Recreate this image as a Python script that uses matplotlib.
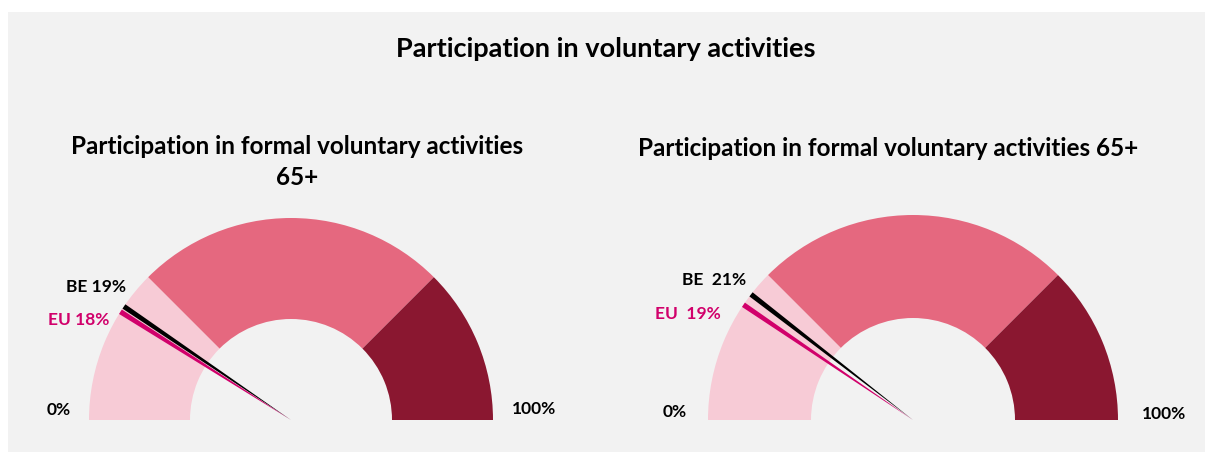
import numpy as np
import matplotlib
matplotlib.use("Agg")
import matplotlib.pyplot as plt
from matplotlib.patches import Wedge, Rectangle, Polygon

# ---- data ----
titles = ["Participation in formal voluntary activities\n65+",
          "Participation in formal voluntary activities 65+"]
band_edges = [0, 25, 75, 100]          # gauge band boundaries (%)
band_colors = ["#F7CBD6", "#E5687F", "#8A1730"]
be_values = [19, 21]
eu_values = [18, 19]
be_labels = ["BE 19%", "BE  21%"]
eu_labels = ["EU 18%", "EU  19%"]
min_label = "0%"
max_label = "100%"
main_title = "Participation in voluntary activities"

FONT = ["Lato", "DejaVu Sans"]
W, H = 1212, 459
fig = plt.figure(figsize=(W / 100, H / 100), dpi=100)
fig.patch.set_facecolor("white")
ax = fig.add_axes([0, 0, 1, 1])
ax.set_xlim(0, W)
ax.set_ylim(0, H)
ax.set_aspect("equal")
ax.axis("off")

ax.add_patch(Rectangle((8, H - 452), 1197, 440, facecolor="#F2F2F2", edgecolor="none"))

ax.text(606, H - 49, main_title, ha="center", va="center", fontsize=19.5,
        fontweight="bold", family=FONT)

gauges = [
    dict(cx=291, cy=H - 420, R=202, w=101, title_xy=(297, H - 162)),
    dict(cx=913, cy=H - 420, R=205, w=103, title_xy=(888, H - 148)),
]
label_pos = [
    dict(be=(96, H - 287), eu=(79, H - 320), zero=(59, H - 410), hundred=(534, H - 409)),
    dict(be=(714, H - 280), eu=(688, H - 314), zero=(675, H - 412), hundred=(1164, H - 414)),
]

def angle(v):
    return 180.0 * (1 - v / 100.0)

def needle(g, v, color, hw):
    a = np.radians(angle(v))
    c = np.array([g["cx"], g["cy"]])
    d = np.array([np.cos(a), np.sin(a)])
    p = np.array([-d[1], d[0]])
    tip = c + d * g["R"]
    pts = [c, tip + p * hw, tip - p * hw]
    ax.add_patch(Polygon(pts, closed=True, facecolor=color, edgecolor="none", zorder=5))

for i, g in enumerate(gauges):
    for j, col in enumerate(band_colors):
        ax.add_patch(Wedge((g["cx"], g["cy"]), g["R"], angle(band_edges[j + 1]),
                           angle(band_edges[j]), width=g["w"], facecolor=col,
                           edgecolor="none"))
    needle(g, be_values[i], "black", 2.6)
    needle(g, eu_values[i], "#D1006B", 2.6)
    tx, ty = g["title_xy"]
    ax.text(tx, ty, titles[i], ha="center", va="center", fontsize=17.5,
            fontweight="bold", family=FONT, linespacing=1.45)
    lp = label_pos[i]
    fs = 12.5
    ax.text(*lp["be"], be_labels[i], ha="center", va="center", fontsize=fs,
            fontweight="bold", family=FONT, color="black")
    ax.text(*lp["eu"], eu_labels[i], ha="center", va="center", fontsize=fs,
            fontweight="bold", family=FONT, color="#D1006B")
    ax.text(*lp["zero"], min_label, ha="center", va="center", fontsize=fs,
            fontweight="bold", family=FONT)
    ax.text(*lp["hundred"], max_label, ha="center", va="center", fontsize=fs,
            fontweight="bold", family=FONT)

fig.savefig("out.png", dpi=100, facecolor="white")
